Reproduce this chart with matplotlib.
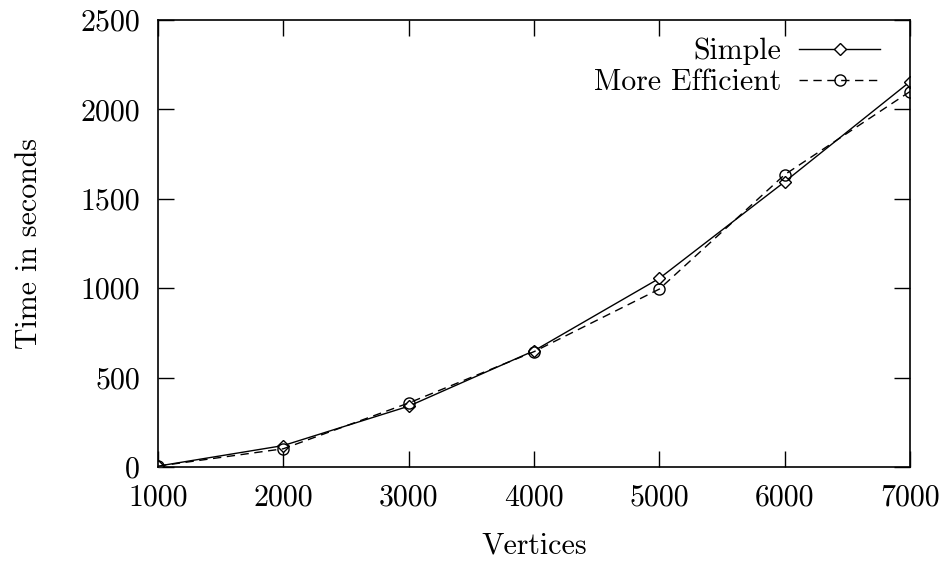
import matplotlib
matplotlib.use("Agg")
import matplotlib.pyplot as plt

vertices = [1000, 2000, 3000, 4000, 5000, 6000, 7000]
simple = [5, 120, 340, 650, 1055, 1595, 2155]
efficient = [5, 102, 358, 645, 995, 1635, 2100]
xticks = [1000, 2000, 3000, 4000, 5000, 6000, 7000]
yticks = [0, 500, 1000, 1500, 2000, 2500]

plt.rcParams['font.family'] = ['cmr10', 'DejaVu Serif']
plt.rcParams['mathtext.fontset'] = 'cm'
plt.rcParams['axes.formatter.use_mathtext'] = True

FS = 21.5
fig = plt.figure(figsize=(9.5, 5.61), dpi=100)
ax = fig.add_axes([158/950, 1-467/561, (910-158)/950, (467-20)/561])

ax.plot(vertices, simple, color='black', lw=1.0, ls='-', marker='D', ms=6.5,
        mfc='white', mec='black', mew=1.0, label='Simple')
ax.plot(vertices, efficient, color='black', lw=1.0, ls=(0, (6, 4)), marker='o', ms=8,
        mfc='none', mec='black', mew=1.0, label='More Efficient')

ax.set_xlim(1000, 7000)
ax.set_ylim(0, 2500)
ax.set_xticks(xticks)
ax.set_yticks(yticks)
ax.set_xticklabels([str(v) for v in xticks])
ax.set_yticklabels([str(v) for v in yticks])
ax.tick_params(direction='in', length=11.5, width=1, top=True, right=True,
               labelsize=FS, colors='black')
ax.tick_params(axis='x', pad=12)
ax.tick_params(axis='y', pad=13)
for s in ax.spines.values():
    s.set_linewidth(1.2)

ax.set_xlabel('Vertices', fontsize=FS, labelpad=15)
ax.set_ylabel('Time in seconds', fontsize=FS, labelpad=27)

leg = ax.legend(loc='upper right', frameon=False, markerfirst=False, fontsize=FS,
                handlelength=2.7, handletextpad=0.6, labelspacing=0.12,
                borderaxespad=0.0, borderpad=0.0, bbox_to_anchor=(0.96, 0.96))

fig.savefig('out.png', dpi=100)
